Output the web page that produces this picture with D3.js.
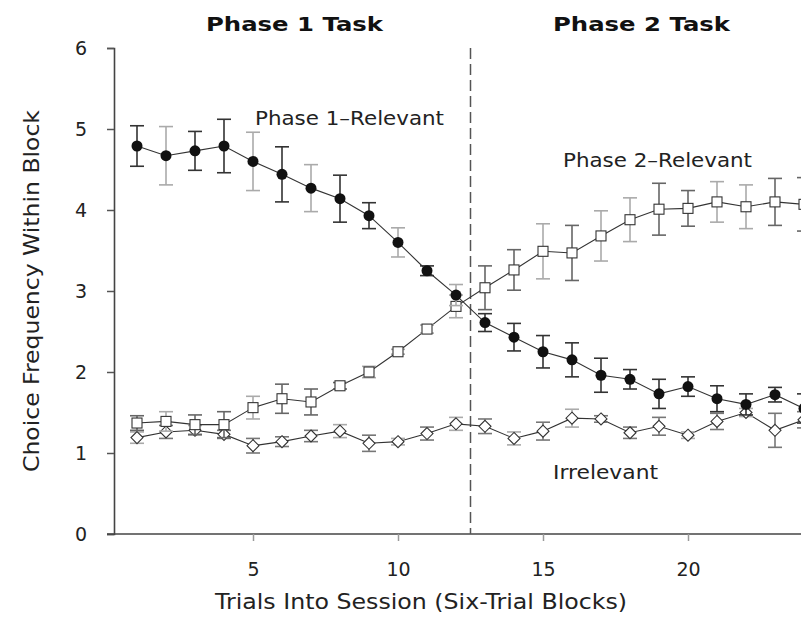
<!DOCTYPE html>
<html><head><meta charset="utf-8">
<script src="https://cdn.jsdelivr.net/npm/d3@7"></script>
<style>body{margin:0;background:#fff}svg{display:block}</style>
</head><body>
<script>
// ---- data ----
const blocks = [1,2,3,4,5,6,7,8,9,10,11,12,13,14,15,16,17,18,19,20,21,22,23,24];
const phase1Mean = [4.79,4.67,4.73,4.79,4.60,4.44,4.27,4.14,3.93,3.60,3.25,2.95,2.61,2.43,2.25,2.15,1.96,1.91,1.73,1.82,1.67,1.60,1.72,1.55];
const phase1Err  = [0.25,0.36,0.24,0.33,0.36,0.34,0.29,0.29,0.16,0.18,0.06,0.13,0.11,0.17,0.20,0.21,0.21,0.12,0.18,0.12,0.16,0.13,0.09,0.18];
const phase2Mean = [1.37,1.39,1.35,1.35,1.56,1.67,1.63,1.83,2.00,2.25,2.53,2.81,3.04,3.26,3.49,3.47,3.68,3.88,4.01,4.02,4.10,4.04,4.10,4.07];
const phase2Err  = [0.09,0.12,0.12,0.16,0.14,0.18,0.16,0.04,0.07,0.03,0.05,0.14,0.27,0.25,0.34,0.34,0.31,0.27,0.32,0.22,0.25,0.27,0.29,0.33];
const irrMean    = [1.19,1.26,1.28,1.23,1.09,1.14,1.21,1.27,1.12,1.14,1.24,1.36,1.33,1.18,1.27,1.43,1.42,1.25,1.33,1.22,1.39,1.50,1.28,1.41];
const irrErr     = [0.07,0.08,0.06,0.05,0.09,0.06,0.07,0.08,0.10,0.04,0.08,0.08,0.09,0.08,0.11,0.11,0.04,0.07,0.11,0.04,0.10,0.05,0.21,0.10];
const xTicks = [5,10,15,20];
const yTicks = [0,1,2,3,4,5,6];
const phaseBoundary = 12.5;
const titles = ["Phase 1 Task","Phase 2 Task"];
const seriesLabels = ["Phase 1\u2013Relevant","Phase 2\u2013Relevant","Irrelevant"];

// ---- drawing ----
const W = 801, H = 634;
const FONT = "'DejaVu Sans', Verdana, sans-serif";
const svg = d3.select("body").append("svg").attr("width", W).attr("height", H);

const x = d3.scaleLinear().domain([0, 25]).range([108, 108 + 29*25]);
const y = d3.scaleLinear().domain([0, 6]).range([534, 48]);
const axisX0 = 114;

// y axis
const gy = svg.append("g").attr("transform", `translate(${axisX0},0)`)
  .call(d3.axisLeft(y).tickValues(yTicks).tickSize(7).tickPadding(20).tickFormat(d3.format("d")));
// x axis
const gx = svg.append("g").attr("transform", `translate(0,${y(0)})`)
  .call(d3.axisBottom(x).tickValues(xTicks).tickSize(7).tickPadding(22));
gx.select(".domain").attr("d", `M${axisX0-7},0H${W+10}`);
[gx, gy].forEach(g => {
  g.select(".domain").attr("stroke", "#444").attr("stroke-width", 1.6);
  g.selectAll(".tick line").attr("stroke", "#555").attr("stroke-width", 1.5);
  g.selectAll(".tick text").attr("font-family", FONT).attr("font-size", 19).attr("fill", "#222");
});
gx.selectAll(".tick line").attr("stroke", "#999");

// phase boundary
svg.append("line")
  .attr("x1", x(phaseBoundary)).attr("x2", x(phaseBoundary))
  .attr("y1", y(6)).attr("y2", y(0))
  .attr("stroke", "#555").attr("stroke-width", 1.5).attr("stroke-dasharray", "11,5");

// titles
svg.selectAll("text.title").data(titles).join("text").attr("class","title")
  .attr("x", (d,i) => i === 0 ? 206 : 553)
  .attr("y", 31)
  .attr("font-family", FONT).attr("font-weight","bold").attr("font-size", 20).attr("fill","#111")
  .attr("textLength", 177).attr("lengthAdjust","spacingAndGlyphs")
  .text(d => d);

// axis labels
svg.append("text").attr("transform", `translate(39,291) rotate(-90)`)
  .attr("text-anchor","middle").attr("font-family", FONT).attr("font-size", 21).attr("fill","#222")
  .attr("textLength", 362).attr("lengthAdjust","spacingAndGlyphs")
  .text("Choice Frequency Within Block");
svg.append("text").attr("x", 421).attr("y", 609).attr("text-anchor","middle")
  .attr("font-family", FONT).attr("font-size", 21).attr("fill","#222")
  .attr("textLength", 412).attr("lengthAdjust","spacingAndGlyphs")
  .text("Trials Into Session (Six-Trial Blocks)");

const series = [
  {name:"irr", mean: irrMean, err: irrErr, shape:"diamond", errColor:"#777"},
  {name:"p2",  mean: phase2Mean, err: phase2Err, shape:"square", errColor:"#666"},
  {name:"p1",  mean: phase1Mean, err: phase1Err, shape:"circle", errColor:"#333"}
];
const lightBars = {p1:[2,5,7,10,12], p2:[2,5,9,10,11,12,15,17,18,21,22], irr:[1,3,8,10,12,14,16,20,22]};

const line = d3.line().x(d => x(d.b)).y(d => y(d.m));
series.forEach(s => {
  const pts = blocks.map((b,i) => ({b, m: s.mean[i], e: s.err[i], i}));
  const g = svg.append("g");
  g.append("path").datum(pts).attr("d", line).attr("fill","none")
    .attr("stroke","#333").attr("stroke-width",1.1);
  const eb = g.selectAll("g.eb").data(pts).join("g")
    .attr("stroke", d => lightBars[s.name].includes(d.b) ? "#aaa" : s.errColor)
    .attr("stroke-width", 1.6);
  eb.append("line").attr("x1", d=>x(d.b)).attr("x2", d=>x(d.b))
    .attr("y1", d=>y(d.m+d.e)).attr("y2", d=>y(d.m-d.e));
  eb.append("line").attr("x1", d=>x(d.b)-7).attr("x2", d=>x(d.b)+7)
    .attr("y1", d=>y(d.m+d.e)).attr("y2", d=>y(d.m+d.e));
  eb.append("line").attr("x1", d=>x(d.b)-7).attr("x2", d=>x(d.b)+7)
    .attr("y1", d=>y(d.m-d.e)).attr("y2", d=>y(d.m-d.e));
  if (s.shape === "circle") {
    g.selectAll("circle").data(pts).join("circle")
      .attr("cx", d=>x(d.b)).attr("cy", d=>y(d.m)).attr("r", 5.5).attr("fill","#111");
  } else if (s.shape === "square") {
    g.selectAll("rect").data(pts).join("rect")
      .attr("x", d=>x(d.b)-5).attr("y", d=>y(d.m)-5).attr("width",10).attr("height",10)
      .attr("fill","#fff").attr("stroke","#333").attr("stroke-width",1.1);
  } else {
    g.selectAll("path.dm").data(pts).join("path").attr("class","dm")
      .attr("d", d => `M${x(d.b)},${y(d.m)-6}L${x(d.b)+6},${y(d.m)}L${x(d.b)},${y(d.m)+6}L${x(d.b)-6},${y(d.m)}Z`)
      .attr("fill","#fff").attr("stroke","#333").attr("stroke-width",1.1);
  }
});

// series labels
const labelPos = [[255,125],[563,167],[553,479]];
const labelLen = [189,189,105];
svg.selectAll("text.slabel").data(seriesLabels).join("text").attr("class","slabel")
  .attr("x", (d,i)=>labelPos[i][0]).attr("y",(d,i)=>labelPos[i][1])
  .attr("font-family", FONT).attr("font-size", 19).attr("fill","#222")
  .attr("textLength", (d,i)=>labelLen[i]).attr("lengthAdjust","spacingAndGlyphs")
  .text(d=>d);
</script>
</body></html>
